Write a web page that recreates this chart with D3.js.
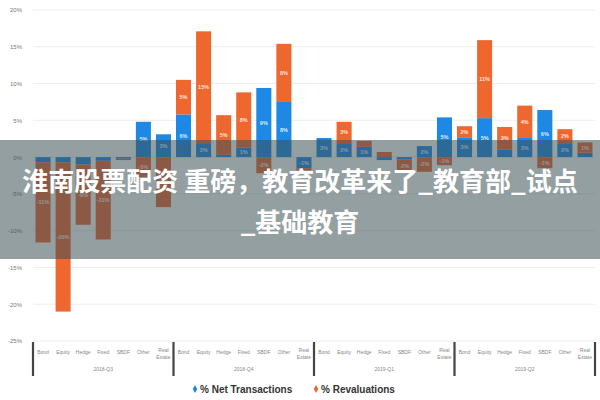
<!DOCTYPE html>
<html><head><meta charset="utf-8">
<script src="https://cdn.jsdelivr.net/npm/d3@7"></script>
<style>
html,body{margin:0;padding:0;background:#fff;}
svg{display:block;font-family:"Liberation Sans",Arial,sans-serif;}
</style></head>
<body>
<svg id="c" width="600" height="400"></svg>
<script>
const categories = ["Bond","Equity","Hedge","Fixed","SBDF","Other","Real Estate"];
const quarters = ["2018-Q3","2018-Q4","2019-Q1","2019-Q2"];
const netTransactions = [-0.7,-0.7,-1.0,-0.5,-0.2,4.8,3.1, 5.8,1.9,0.3,1.3,9.4,7.5,-1.5, 2.6,1.9,1.4,-0.4,-0.3,1.5,5.4, 2.7,5.3,1.0,2.6,6.4,1.9,0.6];
const revaluations = [-10.9,-20.3,-8.2,-10.7,-0.2,-2.7,-6.8, 4.7,15.2,5.4,7.5,-2.2,7.9,-0.3, 0,2.9,0.8,0.7,-1.8,-2.0,-1.1, 1.5,10.6,3.1,4.4,-1.5,1.9,1.4];
const yTicks = [20,15,10,5,0,-5,-10,-15,-20,-25];
const seriesNames = ["% Net Transactions","% Revaluations"];
const colors = ["#1E88E5","#EE672F"];
const bannerLines = ["淮南股票配资 重磅，教育改革来了_教育部_试点","_基础教育"];

const rows = [];
quarters.forEach((q,qi)=>categories.forEach((c,ci)=>{
  const i = qi*categories.length+ci;
  rows.push({key:i, q, c, net:netTransactions[i], rev:revaluations[i]});
}));

const svg = d3.select("#c");
const x = d3.scaleBand().domain(rows.map(d=>d.key)).range([33,595]).paddingInner(0.25).paddingOuter(0.125);
const y = d3.scaleLinear().domain([-25,20]).range([341,10]);

// gridlines
svg.append("g").selectAll("line").data(yTicks).join("line")
  .attr("x1",33).attr("x2",595).attr("y1",d=>y(d)).attr("y2",d=>y(d))
  .attr("stroke","#eeeeee").attr("stroke-width",1);

// y axis
const yAxis = d3.axisLeft(y).tickValues(yTicks).tickFormat(d=>d+"%").tickSize(0).tickPadding(0);
const yg = svg.append("g").attr("transform","translate(22,0)").call(yAxis);
yg.select(".domain").remove();
yg.selectAll("text").attr("font-size",6).attr("fill","#777");

// stacks
const stack = d3.stack().keys(["net","rev"]).offset(d3.stackOffsetDiverging);
const series = stack(rows);
const g = svg.append("g");
series.forEach((s,si)=>{
  const sg = g.append("g");
  sg.selectAll("rect").data(s).join("rect")
    .attr("x",d=>x(d.data.key)).attr("width",x.bandwidth())
    .attr("y",d=>y(Math.max(d[0],d[1])))
    .attr("height",d=>Math.abs(y(d[0])-y(d[1])))
    .attr("fill",colors[si]);
  sg.selectAll("text").data(s.filter(d=>Math.abs(y(d[0])-y(d[1]))>8)).join("text")
    .attr("x",d=>x(d.data.key)+x.bandwidth()/2)
    .attr("y",d=>(y(d[0])+y(d[1]))/2+2)
    .attr("text-anchor","middle").attr("font-size",5.5).attr("font-weight","bold")
    .attr("fill","#ffffff").attr("fill-opacity",0.85)
    .text(d=>Math.round(d.data[si===0?"net":"rev"])+"%");
});

// x axis labels
const step = x.step();
const xl = svg.append("g");
rows.forEach(d=>{
  const cx = x(d.key)+x.bandwidth()/2;
  const parts = d.c.split(" ");
  parts.forEach((p,pi)=>{
    xl.append("text").attr("x",cx).attr("y",parts.length>1?352+pi*7:354)
      .attr("text-anchor","middle").attr("font-size",5).attr("fill","#888").text(p);
  });
});
quarters.forEach((q,qi)=>{
  const start = x(qi*categories.length) - x.paddingInner()*step/2;
  xl.append("text").attr("x",start+step*categories.length/2).attr("y",371)
    .attr("text-anchor","middle").attr("font-size",5).attr("fill","#888").text(q);
});
d3.range(quarters.length+1).forEach(gi=>{
  const bx = x.range()[0] + gi*categories.length*step;
  xl.append("line").attr("x1",bx).attr("x2",bx).attr("y1",342).attr("y2",376)
    .attr("stroke","#444").attr("stroke-width",2.2);
});

// legend
const lg = svg.append("g").attr("font-size",10).attr("font-weight","bold").attr("fill","#333");
const legendX = [195,316];
seriesNames.forEach((n,i)=>{
  lg.append("path").attr("d",d3.symbol(d3.symbolDiamond,18)())
    .attr("transform",`translate(${legendX[i]},${389})`).attr("fill",colors[i]);
  lg.append("text").attr("x",legendX[i]+5).attr("y",393).text(n);
});

// banner overlay
svg.append("rect").attr("x",0).attr("y",140).attr("width",600).attr("height",119)
  .attr("fill","rgb(60,80,85)").attr("fill-opacity",0.55);
const bt = svg.append("g").attr("font-family","'Noto Sans CJK SC',sans-serif")
  .attr("font-weight","bold").attr("font-size",26).attr("fill","#fff").attr("text-anchor","middle");
bannerLines.forEach((t,i)=>{
  bt.append("text").attr("x",300).attr("y",191+i*41).text(t);
});
</script>
</body></html>
